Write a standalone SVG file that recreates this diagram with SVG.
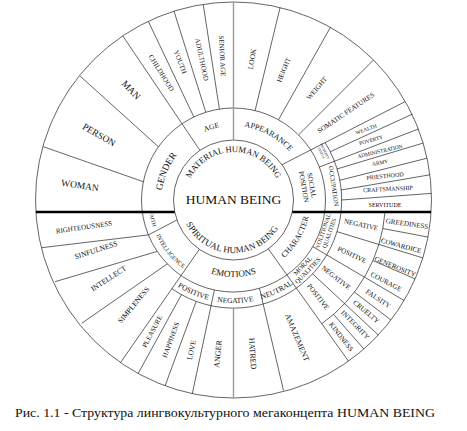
<svg xmlns="http://www.w3.org/2000/svg" width="467" height="431" viewBox="0 0 467 431" font-family="'Liberation Serif', 'Times New Roman', serif">
<style>
.ln{fill:none;stroke:#222;stroke-width:0.7}
.gr{fill:none;stroke:#9a9a9a;stroke-width:1.4}
.th{fill:none;stroke:#000;stroke-width:2.6}
text{font-family:'Liberation Serif','Times New Roman',serif;fill:#111;text-anchor:middle}
.c{dominant-baseline:central}
.f5{font-size:5.4px}.f6{font-size:6px}.f65{font-size:6.5px}.f7{font-size:7px}.f75{font-size:7.5px}.f8{font-size:8px}.f9{font-size:9px}.f95{font-size:9.5px}
</style>
<defs>
<path id="pMat" d="M185.5 200A48 48 0 0 1 281.5 200"/>
<path id="pSpi" d="M180.5 200A53 53 0 0 0 286.5 200"/>
<path id="pG" d="M161.5 200A72 72 0 0 1 305.5 200"/>
<path id="pA" d="M159.5 200A74 74 0 0 1 307.5 200"/>
<path id="pE" d="M156.5 200A77 77 0 0 0 310.5 200"/>
<path id="pF" d="M148.5 200A85 85 0 0 0 318.5 200"/>
<path id="pB" d="M130.5 200A103 103 0 0 0 336.5 200"/>
</defs>
<rect width="467" height="431" fill="#fff"/>
<g id="connectors">
<circle class="ln" cx="233.5" cy="200" r="198"/>
<circle class="ln" cx="233.5" cy="200" r="92"/>
<circle class="ln" cx="233.5" cy="200" r="60"/>
<path class="ln" d="M325.1 142.6A108 108 0 0 1 171.9 288.7"/>
<path class="ln" d="M385 212A152 152 0 0 1 321.8 323.7"/>
<path class="ln" d="M43.3 146.7L143.3 181.7M80 76L158.3 146.7M122.8 35.9L199.9 150.3M148.3 21.3L193.9 117M174 11.2L205.8 112.3M203.2 4.3L219.4 109.1M280.1 7.5L255.1 110.6M330.4 27.3L278.5 119.8M373.5 60L298.6 134.9M405 101.7L282 164.7"/>
<path class="ln" d="M412.7 114L330.1 151.8M418.4 129L319.4 167M423.1 143.1L336.9 169M427 158.2L339.7 180.3M429.9 174.8L341 190M431.4 193.4L341.5 200"/>
<path class="ln" d="M41.7 247.7L148.4 234.9L176.9 220M55 281.7L157.2 251.4M81.7 323.3L167.3 263.9M199.3 249.3L120.5 362.6M181.5 294.6L138.1 373.5M196.2 301.4L165.1 385.8M214.4 290L192.3 393.7M259.5 288.5L283.5 390.5M268.3 248.8L348.5 361.2"/>
<path class="ln" d="M382.8 228.5L428 237.1M336.8 231.6L422.8 257.9M372.9 260.6L415.1 278.9M312.8 246.7L404.1 300.5M354.4 292.1L391 320M312.5 273.7L378.3 335M333.6 314.4L363.9 349"/>
<path class="gr" d="M233.5 2V140M233.5 308V398"/>
<path class="th" d="M35.9 212H174.7M292.3 212H431.1"/>
</g>
<g id="center"><text x="233.5" y="204" style="font-size:13.5px">HUMAN BEING</text></g>
<g id="material"><text style="font-size:8.6px"><textPath href="#pMat" startOffset="50%">MATERIAL HUMAN BEING</textPath></text></g>
<g id="spiritual"><text class="f9"><textPath href="#pSpi" startOffset="48.4%">SPIRITUAL HUMAN BEING</textPath></text></g>
<g id="gender"><text class="f95"><textPath href="#pG" startOffset="12.8%">GENDER</textPath></text></g>
<g id="age"><text class="f75"><textPath href="#pA" startOffset="40.6%">AGE</textPath></text></g>
<g id="appearance"><text class="f8"><textPath href="#pA" startOffset="66%">APPEARANCE</textPath></text></g>
<g id="social"><text class="f7" transform="translate(308,186) rotate(80)"><tspan x="0" y="-1.5">SOCIAL</tspan><tspan x="0" y="6.5">POSITION</tspan></text></g>
<g id="property"><text style="font-size:3.4px" transform="translate(323,152) rotate(64)"><tspan x="0" y="-0.8">PROPERTY</tspan><tspan x="0" y="3.2">STATUS</tspan></text></g>
<g id="occupation"><text class="f65 c" transform="translate(334,186) rotate(82)">OCCUPATION</text></g>
<g id="emotions"><text class="f9"><textPath href="#pE" startOffset="50%">EMOTIONS</textPath></text></g>
<g id="character"><text class="f8"><textPath href="#pE" startOffset="82.9%">CHARACTER</textPath></text></g>
<g id="faith"><text class="f5"><textPath href="#pF" startOffset="7.4%">FAITH</textPath></text></g>
<g id="intelligence"><text class="f6"><textPath href="#pF" startOffset="21.7%">INTELLIGENCE</textPath></text></g>
<g id="em-positive"><text class="f75"><textPath href="#pB" startOffset="36.9%">POSITIVE</textPath></text></g>
<g id="em-negative"><text class="f75"><textPath href="#pB" startOffset="50.6%">NEGATIVE</textPath></text></g>
<g id="em-neutral"><text class="f75"><textPath href="#pB" startOffset="64.2%">NEUTRAL</textPath></text></g>
<g id="volitional"><text class="f6" transform="translate(326,232) rotate(-71)"><tspan x="0" y="-1">VOLITIONAL</tspan><tspan x="0" y="5.5">QUALITIES</tspan></text></g>
<g id="moral"><text class="f65" transform="translate(305,268) rotate(-46)"><tspan x="0" y="-1">MORAL</tspan><tspan x="0" y="6">QUALITIES</tspan></text></g>
<g id="outer-top">
<text class="f95 c" transform="translate(80,185.5) rotate(8)">WOMAN</text>
<text class="f95 c" transform="translate(99,135) rotate(30)">PERSON</text>
<text class="f95 c" transform="translate(131,90) rotate(47)">MAN</text>
<text class="f7 c" transform="translate(161,73) rotate(58)">CHILDHOOD</text>
<text class="f7 c" transform="translate(180,62) rotate(69)">YOUTH</text>
<text class="f7 c" transform="translate(201.5,59.5) rotate(78)">ADULTHOOD</text>
<text class="f7 c" transform="translate(222,56) rotate(87)">SENIOR AGE</text>
<text class="f75 c" transform="translate(252,59) rotate(-80)">LOOK</text>
<text class="f7 c" transform="translate(284,70) rotate(-68)">HEIGHT</text>
<text class="f7 c" transform="translate(317,88.5) rotate(-50)">WEIGHT</text>
<text class="f7 c" transform="translate(346,113) rotate(-34)">SOMATIC FEATURES</text>
<text class="f5 c" transform="translate(366,129) rotate(-20)">WEALTH</text>
<text class="f5 c" transform="translate(371,140) rotate(-16)">POVERTY</text>
<text class="f5 c" transform="translate(380,151) rotate(-13)">ADMINISTRATION</text>
<text class="f5 c" transform="translate(380,162.5) rotate(-9)">ARMY</text>
<text class="f6 c" transform="translate(385,176) rotate(-6)">PRIESTHOOD</text>
<text class="f6 c" transform="translate(388,189) rotate(-3)">CRAFTSMANSHIP</text>
<text class="f6 c" transform="translate(385,204.5)">SERVITUDE</text>
</g>
<g id="outer-bottom">
<text class="f7 c" transform="translate(84,227.5) rotate(-8)">RIGHTEOUSNESS</text>
<text class="f75 c" transform="translate(96,250) rotate(-18)">SINFULNESS</text>
<text class="f75 c" transform="translate(108.5,278.5) rotate(-33)">INTELLECT</text>
<text class="f75 c" transform="translate(133.5,305) rotate(-50)">SIMPLENESS</text>
<text class="f7 c" transform="translate(152.5,331.5) rotate(-62)">PLEASURE</text>
<text class="f7 c" transform="translate(171,340) rotate(-70)">HAPPINESS</text>
<text class="f75 c" transform="translate(191.5,350) rotate(-78)">LOVE</text>
<text class="f8 c" transform="translate(218,354) rotate(-84)">ANGER</text>
<text class="f8 c" transform="translate(252.5,353.5) rotate(86)">HATRED</text>
<text class="f8 c" transform="translate(297,337.5) rotate(67)">AMAZEMENT</text>
</g>
<g id="outer-right">
<text class="f7 c" transform="translate(361,225) rotate(12)">NEGATIVE</text>
<text class="f7 c" transform="translate(352,255) rotate(25)">POSITIVE</text>
<text class="f7 c" transform="translate(336,278) rotate(38)">NEGATIVE</text>
<text class="f7 c" transform="translate(318,297) rotate(52)">POSITIVE</text>
<text class="f7 c" transform="translate(407,224) rotate(8)">GREEDINESS</text>
<text class="f7 c" transform="translate(401,246) rotate(15)">COWARDICE</text>
<text class="f7 c" transform="translate(395,267) rotate(22)">GENEROSITY</text>
<text class="f7 c" transform="translate(386,282) rotate(28)">COURAGE</text>
<text class="f7 c" transform="translate(378,299) rotate(34)">FALSITY</text>
<text class="f7 c" transform="translate(366,312) rotate(40)">CRUELTY</text>
<text class="f7 c" transform="translate(355,325) rotate(46)">INTEGRITY</text>
<text class="f7 c" transform="translate(341,337) rotate(52)">KINDNESS</text>
</g>
<g id="caption"><text x="15" y="417" style="font-size:13.5px;text-anchor:start" textLength="420" lengthAdjust="spacingAndGlyphs">Рис. 1.1 - Структура лингвокультурного мегаконцепта HUMAN BEING</text></g>
</svg>
